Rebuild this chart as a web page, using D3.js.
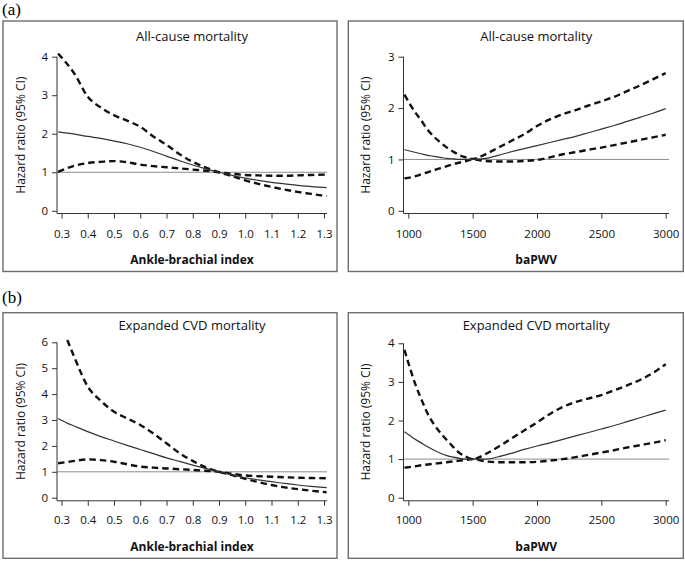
<!DOCTYPE html>
<html>
<head>
<meta charset="utf-8">
<script src="https://cdn.jsdelivr.net/npm/d3@7"></script>
<style>
  html, body { margin: 0; padding: 0; background: #fff; }
  svg { display: block; }
</style>
</head>
<body>
<svg id="chart" width="685" height="561"></svg>
<script>
// ---------- DATA ----------
const abiTicks = [0.3, 0.4, 0.5, 0.6, 0.7, 0.8, 0.9, 1.0, 1.1, 1.2, 1.3];
const pwvTicks = [1000, 1500, 2000, 2500, 3000];
const yTicksA_abi = [0, 1, 2, 3, 4];
const yTicksA_pwv = [0, 1, 2, 3];
const yTicksB_abi = [0, 1, 2, 3, 4, 5, 6];
const yTicksB_pwv = [0, 1, 2, 3, 4];

// (a) All-cause mortality, ankle-brachial index
const abiX_a  = [0.287, 0.35, 0.4, 0.45, 0.5, 0.55, 0.6, 0.65, 0.7, 0.75, 0.8, 0.85, 0.9, 0.95, 1.0, 1.05, 1.1, 1.15, 1.2, 1.25, 1.31];
const abiHR_a = [2.05, 1.99, 1.93, 1.88, 1.81, 1.74, 1.65, 1.54, 1.42, 1.30, 1.19, 1.09, 1.0, 0.92, 0.85, 0.79, 0.74, 0.70, 0.66, 0.63, 0.60];
const abiLo_a = [1.01, 1.17, 1.24, 1.27, 1.29, 1.26, 1.20, 1.16, 1.13, 1.10, 1.07, 1.04, 1.0, 0.96, 0.93, 0.92, 0.91, 0.91, 0.92, 0.93, 0.94];
const abiHi_a = [4.08, 3.55, 2.96, 2.68, 2.48, 2.34, 2.18, 1.93, 1.71, 1.47, 1.27, 1.12, 1.0, 0.90, 0.79, 0.70, 0.62, 0.55, 0.49, 0.44, 0.38];

// (a) All-cause mortality, baPWV
const pwvX_a  = [970, 1050, 1100, 1150, 1200, 1250, 1300, 1350, 1400, 1450, 1500, 1600, 1700, 1800, 1900, 2000, 2100, 2200, 2300, 2400, 2500, 2600, 2700, 2800, 2900, 3000];
const pwvHR_a = [1.19, 1.14, 1.11, 1.08, 1.06, 1.04, 1.02, 1.01, 1.0, 1.0, 1.0, 1.02, 1.08, 1.15, 1.21, 1.27, 1.33, 1.39, 1.45, 1.52, 1.59, 1.66, 1.74, 1.82, 1.90, 1.99];
const pwvLo_a = [0.63, 0.67, 0.71, 0.75, 0.79, 0.83, 0.87, 0.91, 0.94, 0.97, 1.0, 0.97, 0.96, 0.96, 0.97, 0.99, 1.04, 1.10, 1.14, 1.19, 1.23, 1.28, 1.33, 1.38, 1.43, 1.48];
const pwvHi_a = [2.26, 1.93, 1.76, 1.58, 1.44, 1.33, 1.23, 1.15, 1.08, 1.04, 1.01, 1.10, 1.23, 1.36, 1.49, 1.65, 1.78, 1.88, 1.96, 2.05, 2.13, 2.22, 2.33, 2.44, 2.56, 2.68];

// (b) Expanded CVD mortality, ankle-brachial index
const abiX_b  = [0.287, 0.322, 0.35, 0.4, 0.45, 0.5, 0.55, 0.6, 0.65, 0.7, 0.75, 0.8, 0.85, 0.9, 0.95, 1.0, 1.05, 1.1, 1.15, 1.2, 1.25, 1.31];
const abiHR_b = [3.06, 2.88, 2.76, 2.55, 2.36, 2.19, 2.02, 1.86, 1.70, 1.54, 1.40, 1.26, 1.13, 1.0, 0.88, 0.77, 0.69, 0.62, 0.55, 0.49, 0.44, 0.39];
const abiLo_b = [1.33, 1.38, 1.42, 1.48, 1.45, 1.39, 1.29, 1.20, 1.16, 1.13, 1.10, 1.07, 1.04, 1.0, 0.92, 0.86, 0.83, 0.81, 0.79, 0.77, 0.76, 0.75];
const abiHi_b = [null, 6.09, 5.40, 4.29, 3.74, 3.32, 3.06, 2.81, 2.48, 2.10, 1.72, 1.42, 1.17, 1.0, 0.87, 0.73, 0.60, 0.49, 0.40, 0.33, 0.27, 0.21];

// (b) Expanded CVD mortality, baPWV
const pwvX_b  = [970, 1000, 1050, 1100, 1150, 1200, 1250, 1300, 1350, 1400, 1450, 1500, 1600, 1700, 1800, 1900, 2000, 2100, 2200, 2300, 2400, 2500, 2600, 2700, 2800, 2900, 3000];
const pwvHR_b = [1.71, 1.64, 1.52, 1.42, 1.32, 1.23, 1.15, 1.09, 1.05, 1.02, 1.0, 1.0, 1.0, 1.06, 1.15, 1.25, 1.34, 1.42, 1.51, 1.60, 1.69, 1.78, 1.87, 1.97, 2.07, 2.17, 2.27];
const pwvLo_b = [0.78, 0.79, 0.81, 0.84, 0.86, 0.88, 0.90, 0.92, 0.94, 0.96, 0.98, 1.0, 0.94, 0.92, 0.92, 0.92, 0.93, 0.96, 1.0, 1.05, 1.11, 1.17, 1.23, 1.30, 1.36, 1.42, 1.49];
const pwvHi_b = [3.83, 3.50, 2.98, 2.56, 2.18, 1.90, 1.68, 1.49, 1.31, 1.15, 1.06, 1.0, 1.13, 1.32, 1.53, 1.74, 1.95, 2.17, 2.35, 2.48, 2.57, 2.66, 2.78, 2.91, 3.05, 3.23, 3.46];

const titleA = "All-cause mortality";
const titleB = "Expanded CVD mortality";
const xTitleAbi = "Ankle-brachial index";
const xTitlePwv = "baPWV";
const yTitle = "Hazard ratio (95% CI)";

// ---------- LAYOUT ----------
const svg = d3.select("#chart");
const FONT = "'Open Sans', 'DejaVu Sans', sans-serif";
const INK = "#111";

const rows = {
  a: { boxY: 21, boxH: 250.5, y0: 210.8, axisY: 213.5, tickBase: 237.5, xTitleBase: 263.5, titleBase: 40.5, label: "(a)", labelBase: 15 },
  b: { boxY: 312.7, boxH: 245.6, y0: 497.7, axisY: 500.8, tickBase: 524.5, xTitleBase: 550.5, titleBase: 329.5, label: "(b)", labelBase: 303 }
};
const cols = {
  abi: { boxX: 3, boxW: 334, axisX: 57, axisEnd: 327, x0: 61.5, x1: 324, d0: 0.3, d1: 1.3, ticks: abiTicks, fmt: d3.format(".1f"), xTitle: xTitleAbi },
  pwv: { boxX: 348.3, boxW: 335, axisX: 403.5, axisEnd: 669, x0: 408.3, x1: 665.7, d0: 1000, d1: 3000, ticks: pwvTicks, fmt: d3.format("d"), xTitle: xTitlePwv }
};

const panels = [
  { row: "a", col: "abi", title: titleA, yTicks: yTicksA_abi, yTopPx: 56.7, x: abiX_a, hr: abiHR_a, lo: abiLo_a, hi: abiHi_a },
  { row: "a", col: "pwv", title: titleA, yTicks: yTicksA_pwv, yTopPx: 56.7, x: pwvX_a, hr: pwvHR_a, lo: pwvLo_a, hi: pwvHi_a },
  { row: "b", col: "abi", title: titleB, yTicks: yTicksB_abi, yTopPx: 342.3, x: abiX_b, hr: abiHR_b, lo: abiLo_b, hi: abiHi_b },
  { row: "b", col: "pwv", title: titleB, yTicks: yTicksB_pwv, yTopPx: 343.3, x: pwvX_b, hr: pwvHR_b, lo: pwvLo_b, hi: pwvHi_b }
];

// row labels
Object.values(rows).forEach(r => {
  svg.append("text").attr("x", 2).attr("y", r.labelBase)
    .attr("font-family", "'Liberation Serif', 'Times New Roman', serif")
    .attr("font-size", 17).attr("fill", "#000").text(r.label);
});

panels.forEach(p => {
  const r = rows[p.row], c = cols[p.col];
  const g = svg.append("g");

  // frame
  g.append("rect").attr("x", c.boxX).attr("y", r.boxY).attr("width", c.boxW).attr("height", r.boxH)
    .attr("fill", "none").attr("stroke", "#6e6e6e").attr("stroke-width", 1.4);

  const yMax = d3.max(p.yTicks);
  const x = d3.scaleLinear().domain([c.d0, c.d1]).range([c.x0, c.x1]);
  const y = d3.scaleLinear().domain([0, yMax]).range([r.y0, p.yTopPx]);

  // reference line at HR = 1
  g.append("line").attr("x1", c.axisX).attr("x2", c.axisEnd)
    .attr("y1", y(1)).attr("y2", y(1))
    .attr("stroke", "#8c8c8c").attr("stroke-width", 1);

  // axes lines
  g.append("line").attr("x1", c.axisX).attr("x2", c.axisX).attr("y1", p.yTopPx).attr("y2", r.axisY)
    .attr("stroke", "#333").attr("stroke-width", 1);
  g.append("line").attr("x1", c.axisX).attr("x2", c.axisEnd).attr("y1", r.axisY).attr("y2", r.axisY)
    .attr("stroke", "#333").attr("stroke-width", 1);

  // y axis ticks
  const yAx = g.append("g").attr("transform", `translate(${c.axisX},0)`)
    .call(d3.axisLeft(y).tickValues(p.yTicks).tickFormat(d3.format("d")).tickSize(5).tickPadding(4));
  yAx.select(".domain").remove();
  yAx.selectAll("line").attr("stroke", "#333");
  yAx.selectAll("text").attr("font-family", FONT).attr("font-size", 11.5).attr("fill", INK);

  // x axis ticks
  const xAx = g.append("g").attr("transform", `translate(0,${r.axisY})`)
    .call(d3.axisBottom(x).tickValues(c.ticks).tickFormat(c.fmt).tickSize(5).tickPadding(0));
  xAx.select(".domain").remove();
  xAx.selectAll("line").attr("stroke", "#333");
  xAx.selectAll("text").attr("font-family", FONT).attr("font-size", 11.5).attr("fill", INK)
    .attr("dy", null).attr("y", r.tickBase - r.axisY);

  // titles
  const cx = (c.axisX + c.axisEnd) / 2;
  g.append("text").attr("x", cx).attr("y", r.titleBase).attr("text-anchor", "middle")
    .attr("font-family", FONT).attr("font-size", 13).attr("fill", INK).text(p.title);
  g.append("text").attr("x", cx).attr("y", r.xTitleBase).attr("text-anchor", "middle")
    .attr("font-family", FONT).attr("font-size", 12).attr("font-weight", "bold").attr("fill", INK).text(c.xTitle);
  const cy = (p.yTopPx + r.axisY) / 2;
  g.append("text").attr("transform", `translate(${c.boxX + 17.5},${cy}) rotate(-90)`)
    .attr("text-anchor", "middle").attr("dominant-baseline", "central")
    .attr("font-family", FONT).attr("font-size", 12).attr("fill", INK).text(yTitle);

  // curves
  const mk = vals => p.x.map((xv, i) => ({ x: xv, v: vals[i] }));
  const line = d3.line().defined(d => d.v != null).x(d => x(d.x)).y(d => y(d.v)).curve(d3.curveMonotoneX);

  g.append("path").datum(mk(p.hi)).attr("d", line).attr("fill", "none")
    .attr("stroke", "#111").attr("stroke-width", 2.4).attr("stroke-dasharray", "6.5,4");
  g.append("path").datum(mk(p.lo)).attr("d", line).attr("fill", "none")
    .attr("stroke", "#111").attr("stroke-width", 2.4).attr("stroke-dasharray", "6.5,4");
  g.append("path").datum(mk(p.hr)).attr("d", line).attr("fill", "none")
    .attr("stroke", "#333").attr("stroke-width", 1.2);
});
</script>
</body>
</html>
